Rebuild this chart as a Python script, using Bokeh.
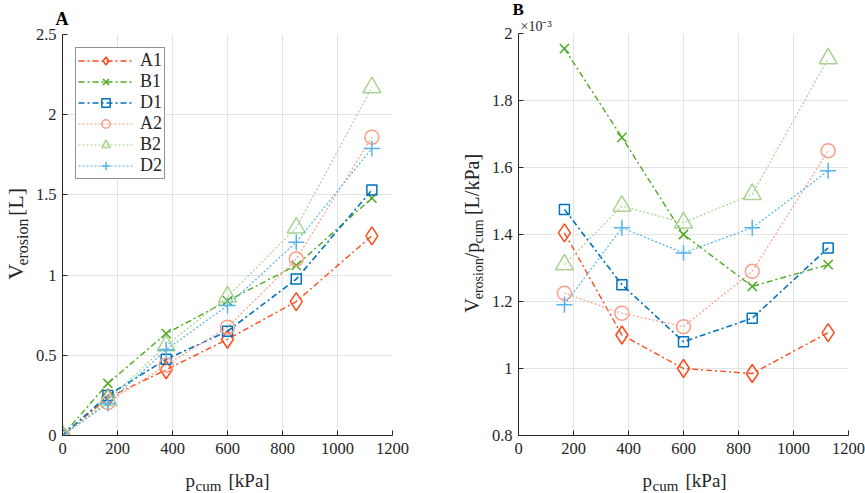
import math
from bokeh.plotting import figure
from bokeh.models import Label, FixedTicker, CustomJSTickFormatter, Range1d, Title
from bokeh.layouts import row, column
from bokeh.embed import file_html
from bokeh.resources import INLINE

# ---------------- data ----------------
series_names = ["A1", "B1", "D1", "A2", "B2", "D2"]

p_cum_a = [0, 165, 377, 600, 850, 1125]
v_A1 = [0, 0.235, 0.41, 0.60, 0.835, 1.245]
v_B1 = [0, 0.325, 0.635, 0.84, 1.06, 1.48]
v_D1 = [0, 0.25, 0.475, 0.65, 0.975, 1.53]
v_A2 = [0, 0.205, 0.44, 0.675, 1.10, 1.86]
v_B2 = [0, 0.22, 0.56, 0.865, 1.295, 2.17]
v_D2 = [0, 0.20, 0.535, 0.81, 1.205, 1.79]

p_cum_b = [167, 376, 600, 850, 1126]
r_A1 = [1.405, 1.10, 1.00, 0.985, 1.107]
r_B1 = [1.955, 1.69, 1.40, 1.245, 1.31]
r_D1 = [1.475, 1.25, 1.08, 1.15, 1.36]
r_A2 = [1.225, 1.165, 1.125, 1.29, 1.65]
r_B2 = [1.31, 1.485, 1.435, 1.52, 1.925]
r_D2 = [1.19, 1.42, 1.345, 1.42, 1.59]

x_ticks = [0, 200, 400, 600, 800, 1000, 1200]
ya_ticks = [0, 0.5, 1, 1.5, 2, 2.5]
yb_ticks = [0.8, 1, 1.2, 1.4, 1.6, 1.8, 2]

# ---------------- styles ----------------
FONT = "Liberation Serif"
AX = "#262626"
colors = {"A1": "#FF4A1A", "B1": "#4DAA1F", "D1": "#0072BD",
          "A2": "#F8A08A", "B2": "#A8D490", "D2": "#56B4E9"}
dashes = {"A1": "6 3 2 3", "B1": "6 3 2 3", "D1": "6 3 2 3",
          "A2": "2 2", "B2": "2 2", "D2": "2 2"}
lwidth = {"A1": 1.4, "B1": 1.4, "D1": 1.6, "A2": 1.2, "B2": 1.2, "D2": 1.2}
markers = {"A1": ("diamond", 18), "B1": ("x", 13), "D1": ("square", 10),
           "A2": ("circle", 14), "B2": ("triangle", 18), "D2": ("cross", 16)}


def style(p, yticks):
    p.xaxis.ticker = FixedTicker(ticks=x_ticks)
    p.yaxis.ticker = FixedTicker(ticks=yticks)
    p.xgrid.ticker = FixedTicker(ticks=x_ticks)
    p.ygrid.ticker = FixedTicker(ticks=yticks)
    for ax in list(p.xaxis) + list(p.yaxis):
        ax.formatter = CustomJSTickFormatter(code="return String(tick);")
        ax.axis_line_color = AX
        ax.axis_line_width = 1
        ax.major_tick_line_color = AX
        ax.major_tick_in = 5
        ax.major_tick_out = 0
        ax.minor_tick_line_color = None
        ax.major_label_text_font = FONT
        ax.major_label_text_font_size = "16.5px"
        ax.major_label_text_color = AX
    p.yaxis[0].major_label_standoff = 6
    p.xaxis[0].major_label_standoff = 7
    p.grid.grid_line_color = "#E3E3E3"
    p.grid.grid_line_width = 1
    p.outline_line_color = None
    p.background_fill_color = "white"


def strip(w, h):
    f = figure(width=w, height=h, output_backend="svg", toolbar_location=None,
               x_range=Range1d(0, w), y_range=Range1d(0, h),
               x_axis_type=None, y_axis_type=None, title=None,
               min_border_left=0, min_border_right=0, min_border_top=0,
               min_border_bottom=0)
    f.outline_line_color = None
    f.grid.visible = False
    return f


def txt(f, x, y, text, size, angle=0.0):
    f.add_layout(Label(x=x, y=y, text=text, text_font=FONT,
                       text_font_size=size, angle=angle, text_color=AX,
                       text_baseline="alphabetic", text_align="left"))


rot = math.pi / 2

# ---------------- panel A ----------------
pa = figure(width=406, height=465, output_backend="svg", toolbar_location=None,
            x_range=Range1d(0, 1200), y_range=Range1d(0, 2.5),
            min_border_left=30, min_border_right=46, min_border_top=33,
            min_border_bottom=30)
style(pa, ya_ticks)
pa.title.text = "A"
pa.title.text_font = FONT
pa.title.text_font_size = "18px"
pa.title.text_font_style = "bold"
pa.title.text_color = "black"
pa.title.align = "left"
pa.title.offset = -7
pa.title.standoff = 12

va = {"A1": v_A1, "B1": v_B1, "D1": v_D1, "A2": v_A2, "B2": v_B2, "D2": v_D2}
for n in series_names:
    c = colors[n]
    pa.line(p_cum_a, va[n], line_color=c, line_width=lwidth[n],
            line_dash=dashes[n], legend_label=n)
    mk, sz = markers[n]
    pa.scatter(p_cum_a, va[n], marker=mk, size=sz, line_color=c,
               fill_color=None, line_width=1.5, legend_label=n)

lg = pa.legend[0]
lg.location = "top_left"
lg.margin = 13
lg.label_text_font = FONT
lg.label_text_font_size = "18px"
lg.label_text_color = AX
lg.glyph_width = 55
lg.glyph_height = 21
lg.label_height = 21
lg.spacing = 0
lg.padding = 2
lg.label_standoff = 7
lg.border_line_color = AX
lg.border_line_width = 1
lg.background_fill_alpha = 1.0

ylab_a = strip(32, 465)
txt(ylab_a, 15, 180.5, "V", "22px", rot)
txt(ylab_a, 22, 197, "erosion", "16px", rot)
txt(ylab_a, 15, 254.5, "[L]", "22px", rot)

xlab_a = strip(438, 28)
txt(xlab_a, 185, 13, "p", "19px")
txt(xlab_a, 195, 8, "cum", "15px")
txt(xlab_a, 228, 13, "[kPa]", "19px")

col_a = column(row(ylab_a, pa), xlab_a)

# ---------------- panel B ----------------
pb = figure(width=377, height=465, output_backend="svg", toolbar_location=None,
            x_range=Range1d(0, 1200), y_range=Range1d(0.8, 2.0), title=None,
            min_border_left=30, min_border_right=17, min_border_top=33,
            min_border_bottom=30)
style(pb, yb_ticks)
pb.add_layout(Title(text="\u00d710\u207b\u00b3", text_font=FONT,
                    text_font_size="14px", text_font_style="normal",
                    text_color=AX, align="left", offset=2, standoff=0), "above")
pb.add_layout(Title(text="B", text_font=FONT, text_font_size="17px",
                    text_font_style="bold", text_color="black",
                    align="left", offset=-6, standoff=-5), "above")

rb = {"A1": r_A1, "B1": r_B1, "D1": r_D1, "A2": r_A2, "B2": r_B2, "D2": r_D2}
for n in series_names:
    c = colors[n]
    pb.line(p_cum_b, rb[n], line_color=c, line_width=lwidth[n],
            line_dash=dashes[n])
    mk, sz = markers[n]
    pb.scatter(p_cum_b, rb[n], marker=mk, size=sz, line_color=c,
               fill_color=None, line_width=1.5)

ylab_b = strip(50, 465)
txt(ylab_b, 33, 142, "V", "20px", rot)
txt(ylab_b, 40, 157.5, "erosion", "14px", rot)
txt(ylab_b, 33, 205, "/p", "20px", rot)
txt(ylab_b, 40, 222, "cum", "14px", rot)
txt(ylab_b, 33, 255, "[L/kPa]", "20px", rot)

xlab_b = strip(427, 28)
txt(xlab_b, 204, 13, "p", "19px")
txt(xlab_b, 214, 8, "cum", "15px")
txt(xlab_b, 247, 13, "[kPa]", "19px")

col_b = column(row(ylab_b, pb), xlab_b)

layout = row(col_a, col_b)
open("out.html", "w").write(file_html(layout, INLINE))
